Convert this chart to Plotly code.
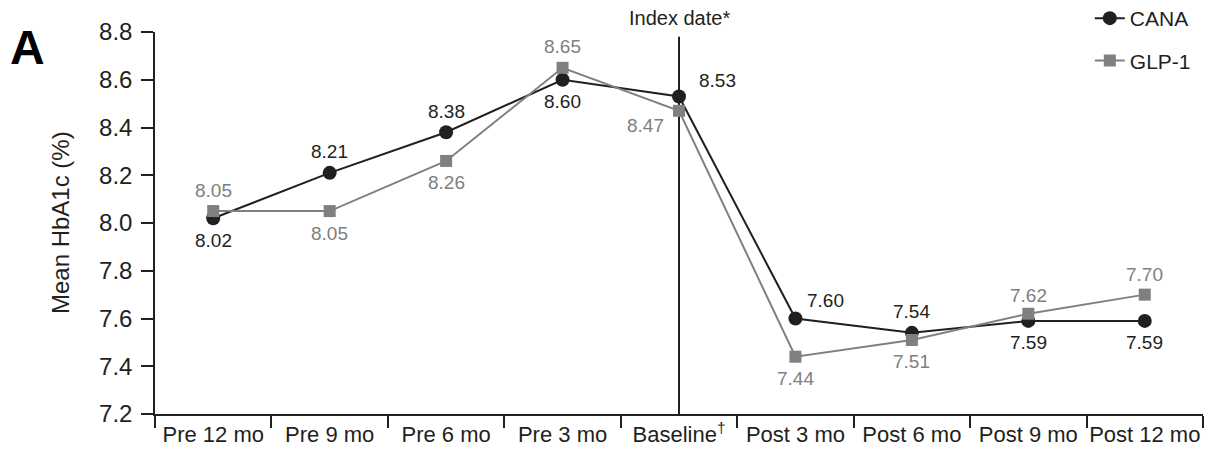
import plotly.graph_objects as go

categories = ["Pre 12 mo", "Pre 9 mo", "Pre 6 mo", "Pre 3 mo", "Baseline\u2020",
              "Post 3 mo", "Post 6 mo", "Post 9 mo", "Post 12 mo"]
tick_labels = ["Pre 12 mo", "Pre 9 mo", "Pre 6 mo", "Pre 3 mo", "Baseline<sup>\u2020</sup>",
               "Post 3 mo", "Post 6 mo", "Post 9 mo", "Post 12 mo"]
cana = [8.02, 8.21, 8.38, 8.60, 8.53, 7.60, 7.54, 7.59, 7.59]
glp1 = [8.05, 8.05, 8.26, 8.65, 8.47, 7.44, 7.51, 7.62, 7.70]
y_ticks = [7.2, 7.4, 7.6, 7.8, 8.0, 8.2, 8.4, 8.6, 8.8]

# label offsets (pixels) per point
cana_off = [(0, -22), (0, 21), (0, 21), (0, -22), (38, 16), (30, 18), (0, 21), (0, -22), (0, -22)]
glp_off = [(0, 21), (0, -22), (0, -22), (0, 21), (-34, -15), (0, -22), (0, -22), (0, 18), (0, 20)]

BLACK = "#231f20"
GREY = "#808080"
FONT = "Liberation Sans, Arial, sans-serif"

fig = go.Figure()
fig.add_trace(go.Scatter(x=categories, y=cana, name="CANA", mode="lines+markers",
                         legendgroup="a",
                         line=dict(color=BLACK, width=2),
                         marker=dict(symbol="circle", size=14, color=BLACK)))
fig.add_trace(go.Scatter(x=categories, y=glp1, name="GLP-1", mode="lines+markers",
                         legendgroup="b",
                         line=dict(color=GREY, width=2),
                         marker=dict(symbol="square", size=12, color=GREY)))

ann = []
for c, v, (dx, dy) in zip(categories, cana, cana_off):
    ann.append(dict(x=c, y=v, text=f"{v:.2f}", showarrow=False, xshift=dx, yshift=dy,
                    font=dict(size=19, color=BLACK, family=FONT)))
for c, v, (dx, dy) in zip(categories, glp1, glp_off):
    ann.append(dict(x=c, y=v, text=f"{v:.2f}", showarrow=False, xshift=dx, yshift=dy,
                    font=dict(size=19, color=GREY, family=FONT)))
ann.append(dict(x=categories[4], y=1, yref="paper", yshift=14, yanchor="middle",
                text="Index date*", showarrow=False,
                font=dict(size=20, color=BLACK, family=FONT)))
ann.append(dict(x=-0.1221, y=0.9607, xref="paper", yref="paper", text="<b>A</b>", showarrow=False,
                font=dict(size=48, color="black", family=FONT), xanchor="center", yanchor="middle"))
ann.append(dict(x=-0.0906, y=0.5, xref="paper", yref="paper", text="Mean HbA1c (%)",
                textangle=-90, showarrow=False, xanchor="center", yanchor="middle",
                font=dict(size=24, color=BLACK, family=FONT)))

fig.add_shape(type="line", x0=categories[4], x1=categories[4], y0=7.2, y1=8.78,
              xref="x", yref="y", line=dict(color=BLACK, width=2), layer="below")

fig.update_layout(
    width=1210, height=454,
    margin=dict(l=155, r=7, t=32, b=40, autoexpand=False),
    paper_bgcolor="white", plot_bgcolor="white",
    font=dict(family=FONT, color=BLACK),
    showlegend=True,
    legend=dict(x=0.892, y=1.089, xanchor="left", yanchor="top", bgcolor="rgba(0,0,0,0)",
                font=dict(size=21, family=FONT, color=BLACK), tracegroupgap=12),
    annotations=ann,
    xaxis=dict(type="category", range=[-0.5, 8.5], showgrid=False, zeroline=False,
               tickvals=categories, ticktext=tick_labels,
               showline=True, linecolor=BLACK, linewidth=1.5, tickangle=0,
               ticks="outside", tickson="boundaries", ticklen=12, tickwidth=1.5, tickcolor=BLACK,
               tickfont=dict(size=22, family=FONT, color=BLACK)),
    yaxis=dict(range=[7.2, 8.8], tickvals=y_ticks, ticktext=[f"{t:.1f}" for t in y_ticks],
               showgrid=False, zeroline=False, showline=True, linecolor=BLACK, linewidth=1.5,
               ticks="outside", ticklen=12, tickwidth=1.5, tickcolor=BLACK, ticklabelstandoff=4,
               tickfont=dict(size=24, family=FONT, color=BLACK)),
)

fig.write_html("out.html")
